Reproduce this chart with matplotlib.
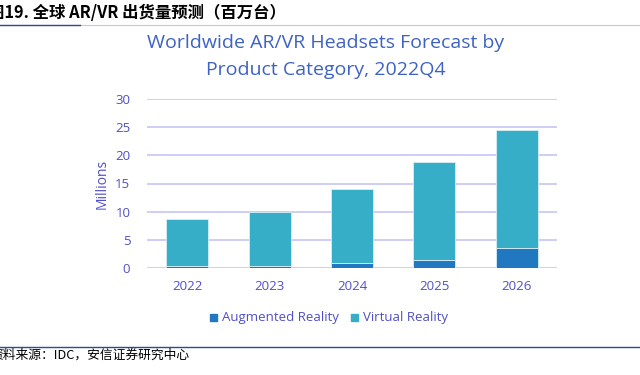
import matplotlib.pyplot as plt
import numpy as np

years = ['2022', '2023', '2024', '2025', '2026']
ar = [0.3, 0.4, 0.8, 1.5, 3.6]
vr = [8.4, 9.6, 13.2, 17.3, 20.9]

vr_color = '#36aec8'
ar_color = '#2278c0'
text_color = '#4f4fc8'
title_color = '#3d62c4'

plt.rcParams['font.family'] = ['Open Sans', 'Noto Sans CJK SC', 'DejaVu Sans']

fig = plt.figure(figsize=(6.4, 3.75), dpi=100)
ax = fig.add_axes([147 / 640, 1 - 268 / 375, 410 / 640, 169 / 375])

x = np.arange(len(years))
ax.bar(x, ar, width=0.51, color=ar_color, edgecolor='#d8eef6', linewidth=0.6, zorder=3)
ax.bar(x, vr, width=0.51, bottom=ar, color=vr_color, edgecolor='#d8eef6', linewidth=0.6, zorder=3)

ax.set_xlim(-0.486, 4.486)
ax.set_ylim(0, 30)
ax.set_yticks(range(0, 31, 5))
ax.set_xticks(x)
ax.set_xticklabels(years)
ax.grid(axis='y', color='#c9c9f6', linewidth=1.3, zorder=0)
for s in ax.spines.values():
    s.set_visible(False)
ax.tick_params(length=0, colors=text_color, labelsize=9.5)
ax.tick_params(axis='x', pad=9)
ax.tick_params(axis='y', pad=12)
ax.set_ylabel('Millions', color=text_color, fontsize=10, labelpad=4)

# chart title
fig.text(326 / 640, 1 - 43 / 375, 'Worldwide AR/VR Headsets Forecast by',
         ha='center', va='center', fontsize=14, color=title_color)
fig.text(326 / 640, 1 - 70 / 375, 'Product Category, 2022Q4',
         ha='center', va='center', fontsize=14, color=title_color)

# legend
fig.patches.append(plt.Rectangle((210 / 640, 1 - 321 / 375), 7 / 640, 7 / 375,
                                 transform=fig.transFigure, color=ar_color))
fig.text(222 / 640, 1 - 317 / 375, 'Augmented Reality', ha='left', va='center',
         fontsize=9.5, color=text_color)
fig.patches.append(plt.Rectangle((351 / 640, 1 - 321 / 375), 7 / 640, 7 / 375,
                                 transform=fig.transFigure, color=vr_color))
fig.text(363 / 640, 1 - 317 / 375, 'Virtual Reality', ha='left', va='center',
         fontsize=9.5, color=text_color)

# report header and footer (cut at the left edge, as in the source page)
fig.text(-12 / 640, 1 - 13 / 375, '图19. 全球 AR/VR 出货量预测（百万台）', ha='left', va='center',
         fontsize=11.8, fontweight='bold', color='black',
         family=['Noto Sans CJK SC', 'DejaVu Sans'])
fig.add_artist(plt.Line2D([0, 1], [1 - 25 / 375] * 2, color='#c8c8c8', linewidth=0.8))
fig.add_artist(plt.Line2D([0, 80 / 640], [1 - 25 / 375] * 2, color='#2a4a9a', linewidth=1.0))
fig.add_artist(plt.Line2D([0, 1], [1 - 347 / 375] * 2, color='#2a4a9a', linewidth=1.0))
fig.text(-10 / 640, 1 - 355 / 375, '资料来源：IDC，安信证券研究中心', ha='left', va='center',
         fontsize=9.2, color='black', family=['Noto Sans CJK SC', 'DejaVu Sans'])

fig.savefig('out.png', dpi=100)
